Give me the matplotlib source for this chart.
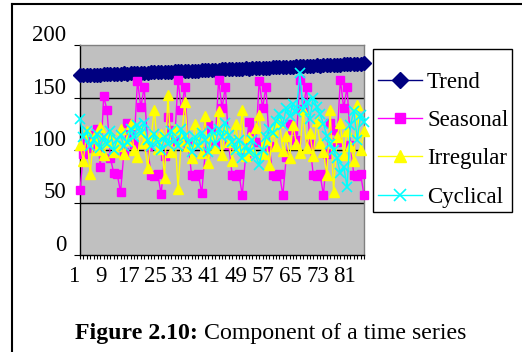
import matplotlib
matplotlib.use("Agg")
import matplotlib.pyplot as plt
from matplotlib.transforms import ScaledTranslation
from matplotlib.lines import Line2D
from matplotlib.patches import Rectangle

plt.rcParams['font.family'] = ['Liberation Serif', 'DejaVu Serif']

periods = list(range(1, 86))
yticks = [0, 50, 100, 150, 200]

trend = [171.0, 171.3, 171.2, 171.5, 171.7, 171.6, 171.9, 172.1, 172.0, 172.3, 172.5, 172.4,
         172.7, 172.9, 172.8, 173.1, 173.3, 173.2, 173.5, 173.7, 173.6, 173.9, 174.1, 174.0,
         174.3, 174.5, 174.4, 174.7, 174.9, 174.8, 175.1, 175.3, 175.2, 175.5, 175.7, 175.6,
         175.9, 176.1, 176.0, 176.3, 176.5, 176.4, 176.7, 176.9, 176.8, 177.1, 177.3, 177.2,
         177.5, 177.7, 177.6, 177.9, 178.1, 178.0, 178.3, 178.5, 178.4, 178.7, 178.9, 178.8,
         179.1, 179.3, 179.2, 179.5, 179.7, 179.6, 179.9, 180.1, 180.0, 180.3, 180.5, 180.4,
         180.7, 180.9, 180.8, 181.1, 181.3, 181.2, 181.5, 181.7, 181.6, 181.9, 182.1, 182.0,
         182.4]

seasonal = [62, 96, 110, 102, 114, 120, 84, 151, 138, 92, 78, 77,
            60, 98, 126, 116, 106, 166, 141, 160, 104, 76, 75, 77,
            58, 94, 131, 119, 109, 167, 138, 160, 106, 76, 75, 77,
            59, 96, 124, 117, 107, 167, 140, 160, 105, 76, 75, 77,
            57, 95, 127, 118, 108, 166, 140, 160, 104, 76, 75, 77,
            57, 93, 125, 119, 110, 167, 139, 160, 106, 76, 75, 77,
            57, 96, 126, 119, 108, 167, 140, 160, 105, 76, 75, 77,
            57]

irregular = [105, 90, 118, 77, 112, 100, 122, 95, 108, 115, 98, 104,
             120, 96, 110, 125, 100, 93, 118, 107, 83, 112, 138, 101,
             115, 73, 152, 98, 120, 63, 110, 146, 104, 92, 125, 108,
             97, 132, 88, 114, 102, 137, 95, 120, 108, 90, 125, 103,
             138, 94, 112, 100, 121, 133, 96, 110, 86, 118, 104, 127,
             99, 113, 92, 124, 106, 97, 138, 102, 116, 94, 128, 107,
             98, 76, 138, 60, 112, 126, 95, 118, 104, 90, 143, 100,
             118]

cyclical = [130, 112, 118, 104, 110, 115, 102, 112, 106, 118, 100, 110,
            114, 104, 108, 120, 112, 124, 116, 126, 110, 104, 115, 108,
            100, 112, 106, 118, 110, 104, 120, 113, 108, 98, 112, 104,
            116, 110, 98, 118, 106, 120, 112, 126, 114, 108, 100, 110,
            92, 104, 98, 110, 94, 86, 100, 112, 120, 116, 128, 134,
            124, 140, 132, 144, 136, 173, 138, 146, 130, 150, 141, 134,
            125, 113, 106, 100, 92, 78, 84, 65, 124, 137, 110, 133,
            127]

names = ['Trend', 'Seasonal', 'Irregular', 'Cyclical']

W, H = 522, 352
fig = plt.figure(figsize=(W / 100, H / 100), dpi=100)
ax = fig.add_axes([80 / W, 1 - 255 / H, 284 / W, 210 / H])
ax.set_facecolor('#C0C0C0')

styles = [
    (trend, '#000080', 'D', 7.0, dict()),
    (seasonal, '#FF00FF', 's', 6.0, dict()),
    (irregular, '#FFFF00', '^', 7.5, dict()),
    (cyclical, '#00FFFF', 'x', 7.0, dict(markeredgewidth=1.2)),
]
handles = []
for name, (vals, col, mk, ms, extra) in zip(names, styles):
    ax.plot(periods, vals, color=col, lw=1.0, marker=mk, markersize=ms,
            markerfacecolor=col, markeredgecolor=col, clip_on=False,
            label=name, zorder=3, **extra)
    handles.append(Line2D([], [], color=col, lw=1.0, marker=mk, markersize=ms + 1.0,
                          markerfacecolor=col, markeredgecolor=col, **extra))

ax.set_xlim(1, 85)
ax.set_ylim(0, 200)
ax.set_yticks(yticks)
ax.set_yticklabels([str(v) for v in yticks])
ax.set_xticks(periods)
ax.set_xticklabels([str(p) if (p - 1) % 8 == 0 else '' for p in periods])

for y in [50, 100, 150]:
    ax.axhline(y, color='black', lw=1.0, zorder=1)

for s in ['top', 'right']:
    ax.spines[s].set_color('#808080')
    ax.spines[s].set_linewidth(1.0)
for s in ['left', 'bottom']:
    ax.spines[s].set_color('black')
    ax.spines[s].set_linewidth(1.0)

ax.tick_params(axis='y', direction='out', length=4, width=0.8, pad=6,
               labelsize=16.5, colors='black')
ax.tick_params(axis='x', direction='out', length=3, width=0.8, pad=5,
               labelsize=16.5, colors='black')

for lab in ax.get_yticklabels():
    lab.set_transform(lab.get_transform() + ScaledTranslation(0, 0.12, fig.dpi_scale_trans))
for lab in ax.get_xticklabels():
    lab.set_transform(lab.get_transform() + ScaledTranslation(-0.06, 0, fig.dpi_scale_trans))

# legend box drawn manually
fig.add_artist(Rectangle((373 / W, 1 - 212 / H), (512 - 373) / W, (212 - 49) / H,
                         transform=fig.transFigure, facecolor='white',
                         edgecolor='black', lw=1.0, zorder=2))
leg = fig.legend(handles, names, loc='upper left',
                 bbox_to_anchor=(378 / W, 1 - 72 / H), fontsize=16.5,
                 frameon=False, handlelength=1.92, handletextpad=0.22,
                 labelspacing=0.75, borderpad=0, borderaxespad=0)
leg.set_zorder(3)

# outer frame (left and top edges visible)
fig.add_artist(Line2D([12 / W, 12 / W], [0, 1 - 4 / H], transform=fig.transFigure,
                      color='black', lw=1.5))
fig.add_artist(Line2D([12 / W, 1], [1 - 4 / H, 1 - 4 / H], transform=fig.transFigure,
                      color='black', lw=1.5))

# caption
t1 = fig.text(75 / W, 1 - 334 / H, 'Figure 2.10:', fontsize=17.2, fontweight='bold',
              va='center', ha='left')
fig.canvas.draw()
bb = t1.get_window_extent()
fig.text((bb.x1 + 6) / W, 1 - 334 / H, 'Component of a time series', fontsize=17.2,
         va='center', ha='left')

fig.savefig('out.png', dpi=100)
